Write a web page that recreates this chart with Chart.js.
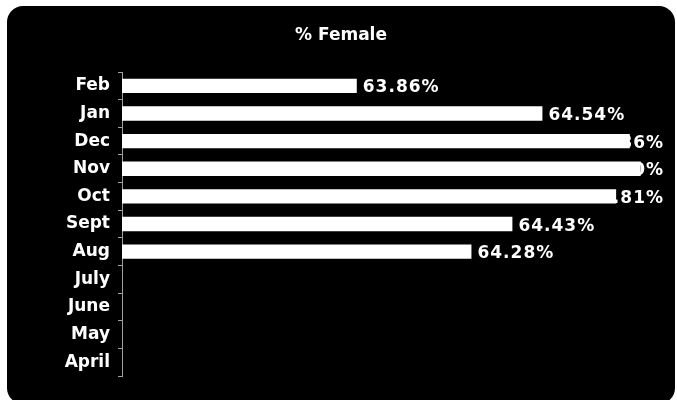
<!DOCTYPE html>
<html>
<head>
<meta charset="utf-8">
<script src="https://cdn.jsdelivr.net/npm/chart.js@4.4.0/dist/chart.umd.min.js"></script>
<style>
  html, body { margin: 0; padding: 0; background: #fff; }
  #femaleChart { display: block; }
</style>
</head>
<body>
<canvas id="femaleChart" width="677" height="400"></canvas>
<script>
// months listed top to bottom, newest first
const months = ['Feb', 'Jan', 'Dec', 'Nov', 'Oct', 'Sept', 'Aug', 'July', 'June', 'May', 'April'];
const pctFemale = [63.86, 64.54, 64.86, 64.90, 64.81, 64.43, 64.28, null, null, null, null];
const axisMin = 63;
const axisMax = 65;

const FONT = '"DejaVu Sans", Verdana, sans-serif';

// rounded black panel behind the whole chart
const panelBackground = {
    id: 'panelBackground',
    beforeDraw(chart) {
        const ctx = chart.ctx;
        ctx.save();
        ctx.fillStyle = '#fff';
        ctx.fillRect(0, 0, chart.width, chart.height);
        ctx.fillStyle = '#000';
        ctx.beginPath();
        ctx.roundRect(7, 6, 668, 398, 16);
        ctx.fill();
        ctx.restore();
    }
};

// value labels are drawn before the bars, so a long bar hides the front of its label
const valueLabels = {
    id: 'valueLabels',
    beforeDatasetsDraw(chart) {
        const ctx = chart.ctx;
        const rightLimit = chart.chartArea.right - 4;
        ctx.save();
        ctx.font = 'bold 17px ' + FONT;
        ctx.letterSpacing = '1px';
        ctx.fillStyle = '#fff';
        ctx.textBaseline = 'alphabetic';
        ctx.textAlign = 'left';
        chart.getDatasetMeta(0).data.forEach((bar, i) => {
            const v = pctFemale[i];
            if (v == null) return;
            const text = v.toFixed(2) + '%';
            const m = ctx.measureText(text);
            const x = Math.min(bar.x + 6, rightLimit - m.width);
            // centre the digits (not the em box) on the bar
            const y = bar.y + (m.actualBoundingBoxAscent - m.actualBoundingBoxDescent) / 2;
            ctx.fillText(text, x, Math.round(y));
        });
        ctx.restore();
    }
};

new Chart(document.getElementById('femaleChart'), {
    type: 'bar',
    data: {
        labels: months,
        datasets: [{
            data: pctFemale,
            backgroundColor: '#fff',
            borderWidth: 0,
            barPercentage: 0.52,
            categoryPercentage: 1
        }]
    },
    options: {
        indexAxis: 'y',
        responsive: false,
        animation: false,
        devicePixelRatio: 1,
        layout: { padding: { left: 14, right: 9, top: 0, bottom: 24 } },
        plugins: {
            legend: { display: false },
            tooltip: { enabled: false },
            title: {
                display: true,
                text: '% Female',
                color: '#fff',
                font: { family: FONT, size: 17, weight: 'bold' },
                padding: { top: 25, bottom: 26.6 }
            }
        },
        scales: {
            x: { display: false, min: axisMin, max: axisMax },
            y: {
                grid: { drawOnChartArea: false, drawTicks: true, tickLength: 4, tickColor: '#a0a0a0', offset: true },
                border: { display: true, color: '#a0a0a0' },
                ticks: { color: '#fff', font: { family: FONT, size: 17, weight: 'bold' }, padding: 8 },
                afterFit(scale) { scale.width = 108; }
            }
        }
    },
    plugins: [panelBackground, valueLabels]
});
</script>
</body>
</html>
